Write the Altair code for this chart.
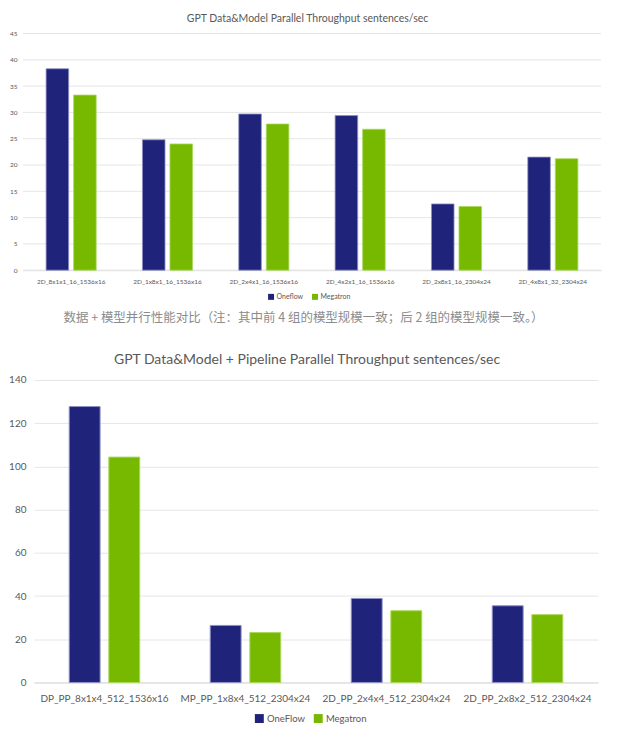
import altair as alt
import pandas as pd

series = ["OneFlow", "Megatron"]
series_top = ["Oneflow", "Megatron"]

cats1 = ["2D_8x1x1_16_1536x16", "2D_1x8x1_16_1536x16", "2D_2x4x1_16_1536x16",
         "2D_4x2x1_16_1536x16", "2D_2x8x1_16_2304x24", "2D_4x8x1_32_2304x24"]
oneflow1 = [38.3, 24.8, 29.7, 29.4, 12.6, 21.5]
megatron1 = [33.3, 24.0, 27.8, 26.8, 12.1, 21.2]
ticks1 = list(range(0, 46, 5))

cats2 = ["DP_PP_8x1x4_512_1536x16", "MP_PP_1x8x4_512_2304x24",
         "2D_PP_2x4x4_512_2304x24", "2D_PP_2x8x2_512_2304x24"]
oneflow2 = [127.7, 26.4, 38.9, 35.5]
megatron2 = [104.3, 23.1, 33.2, 31.4]
ticks2 = list(range(0, 141, 20))

title1 = "GPT Data&Model Parallel Throughput sentences/sec"
title2 = "GPT Data&Model + Pipeline Parallel Throughput sentences/sec"
caption = "数据 + 模型并行性能对比（注：其中前 4 组的模型规模一致；后 2 组的模型规模一致。）"

colors = ["#1F237A", "#76B900"]
strokes = ["#8F91C4", "#A9D85A"]
FONT = "Lato"
GREY = "#595959"
GRID = "#E6E6E6"

def make_df(cats, a, b, names):
    rows = []
    for c, va, vb in zip(cats, a, b):
        rows.append({"cat": c, "series": names[0], "value": va})
        rows.append({"cat": c, "series": names[1], "value": vb})
    return pd.DataFrame(rows)

df1 = make_df(cats1, oneflow1, megatron1, series_top)
df2 = make_df(cats2, oneflow2, megatron2, series)

# top panel: plot area shifted 11px left of the shared column origin
SHIFT = 11
W1, H1 = 568, 237
W2, H2 = 565, 303

yscale1 = alt.Scale(domain=[0, 45], nice=False)
yaxis1 = alt.Axis(values=ticks1, labelFontSize=6.5, labelColor=GREY,
                  labelFont=FONT, ticks=False, domain=False, grid=False,
                  labelPadding=6, offset=SHIFT)

grid1 = alt.Chart(pd.DataFrame({"value": ticks1})).mark_rule(color=GRID, strokeWidth=1).encode(
    y=alt.Y("value:Q", title=None, scale=yscale1, axis=yaxis1),
    x=alt.value(-SHIFT), x2=alt.value(W1),
)

top_bars = alt.Chart(df1).mark_bar(strokeWidth=0.8).encode(
    x=alt.X("cat:N", sort=cats1, title=None,
            scale=alt.Scale(paddingInner=0.48, paddingOuter=0.24, range=[-SHIFT, W1]),
            axis=alt.Axis(labelAngle=0, labelFontSize=6.5, labelColor=GREY, labelFont=FONT,
                          ticks=False, domainColor="#D9D9D9", labelPadding=8)),
    xOffset=alt.XOffset("series:N", sort=series_top, scale=alt.Scale(paddingInner=0.18)),
    y=alt.Y("value:Q", title=None, scale=yscale1, axis=yaxis1),
    color=alt.Color("series:N", sort=series_top,
                    scale=alt.Scale(domain=series_top, range=colors),
                    legend=alt.Legend(title=None, orient="none", direction="horizontal",
                                      legendX=234, legendY=260, symbolType="square",
                                      symbolSize=36, symbolStrokeWidth=0,
                                      labelFontSize=7, labelColor=GREY, labelFont=FONT,
                                      columnPadding=8, labelOffset=2)),
    stroke=alt.Stroke("series:N", scale=alt.Scale(domain=series_top, range=strokes), legend=None),
)

cap = alt.Chart(pd.DataFrame({"t": [caption]})).mark_text(
    font="Noto Sans CJK SC", fontSize=12.5, color="#8C8C8C", align="center", baseline="middle"
).encode(text="t:N", x=alt.value(270), y=alt.value(H1 + 48))

top = alt.layer(grid1, top_bars, cap).properties(
    width=W1, height=H1,
    title=alt.Title(title1, font=FONT, fontSize=10.5, fontWeight="normal", color=GREY,
                    offset=6, dx=-10),
)

bot = alt.Chart(df2).mark_bar(strokeWidth=1).encode(
    x=alt.X("cat:N", sort=cats2, title=None,
            scale=alt.Scale(paddingInner=0.5, paddingOuter=0.25),
            axis=alt.Axis(labelAngle=0, labelFontSize=10, labelColor=GREY, labelFont=FONT,
                          ticks=False, domainColor="#D9D9D9", labelPadding=11)),
    xOffset=alt.XOffset("series:N", sort=series, scale=alt.Scale(paddingInner=0.22)),
    y=alt.Y("value:Q", title=None,
            scale=alt.Scale(domain=[0, 140], nice=False),
            axis=alt.Axis(values=ticks2, labelFontSize=10, labelColor=GREY,
                          labelFont=FONT, ticks=False, domain=False, gridColor=GRID,
                          labelPadding=8)),
    color=alt.Color("series:N", sort=series,
                    scale=alt.Scale(domain=series, range=colors),
                    legend=alt.Legend(title=None, orient="none", direction="horizontal",
                                      legendX=221, legendY=334, symbolType="square",
                                      symbolSize=80, symbolStrokeWidth=0,
                                      labelFontSize=9.5, labelColor=GREY, labelFont=FONT,
                                      columnPadding=8, labelOffset=3)),
    stroke=alt.Stroke("series:N", scale=alt.Scale(domain=series, range=strokes), legend=None),
).properties(
    width=W2, height=H2,
    title=alt.Title(title2, font=FONT, fontSize=14, fontWeight="normal", color=GREY,
                    offset=8, dx=-9),
)

chart = alt.concat(top, bot, columns=1, spacing=28).resolve_scale(
    color="independent", stroke="independent", x="independent", y="independent", xOffset="independent"
).properties(
    padding={"left": 0, "top": 5, "right": 0, "bottom": 0},
    background="white",
).configure_view(stroke=None)

chart.save("out.html", embed_options={"renderer": "svg", "actions": False})
